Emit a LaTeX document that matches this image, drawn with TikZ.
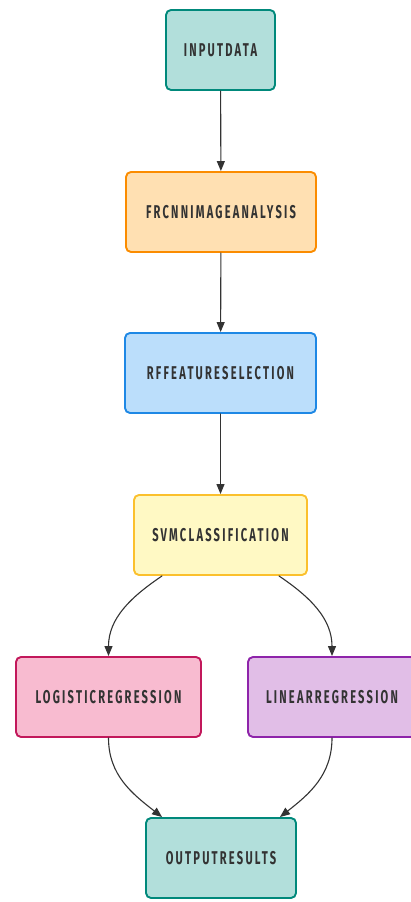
\documentclass[tikz,border=0pt]{standalone}
\usepackage{fontspec}
\usetikzlibrary{arrows.meta}
\newfontfamily\boxfont[FakeStretch=0.6,LetterSpace=12]{Fira Sans}
\definecolor{tealfill}{HTML}{B2DFDB}
\definecolor{tealline}{HTML}{00897B}
\definecolor{orangefill}{HTML}{FFE0B2}
\definecolor{orangeline}{HTML}{FB8C00}
\definecolor{bluefill}{HTML}{BBDEFB}
\definecolor{blueline}{HTML}{1E88E5}
\definecolor{yellowfill}{HTML}{FFF9C4}
\definecolor{yellowline}{HTML}{FBC02D}
\definecolor{pinkfill}{HTML}{F8BBD0}
\definecolor{pinkline}{HTML}{C2185B}
\definecolor{purplefill}{HTML}{E1BEE7}
\definecolor{purpleline}{HTML}{8E24AA}
\definecolor{inkgray}{HTML}{333333}

\begin{document}
\begin{tikzpicture}[line cap=round,line join=round,>={Triangle[length=10pt,width=8pt]},x=1pt,y=1pt,
	box/.style={draw,line width=1.9pt,rounded corners=5pt,minimum height=80pt,inner sep=0pt,text=inkgray,font=\boxfont\bfseries\fontsize{18.5}{20}\selectfont},
	flow/.style={->,draw=inkgray,line width=1.1pt}]
		\useasboundingbox (0,0) rectangle (410,902);
		\node[box,fill=tealfill,draw=tealline,minimum width=109pt] (inputdata) at (220.5,852) {INPUTDATA};
		\node[box,fill=orangefill,draw=orangeline,minimum width=190pt] (frcnn) at (221,690) {FRCNNIMAGEANALYSIS};
		\node[box,fill=bluefill,draw=blueline,minimum width=191pt] (rffeature) at (220.5,529) {RFFEATURESELECTION};
		\node[box,fill=yellowfill,draw=yellowline,minimum width=173pt] (svm) at (220.5,367) {SVMCLASSIFICATION};
		\node[box,fill=pinkfill,draw=pinkline,minimum width=185pt] (logistic) at (108.5,205) {LOGISTICREGRESSION};
		\node[box,fill=purplefill,draw=purpleline,minimum width=168pt] (linear) at (332,205) {LINEARREGRESSION};
		\node[box,fill=tealfill,draw=tealline,minimum width=150pt] (output) at (221,44) {OUTPUTRESULTS};
		\draw[flow] (inputdata) -- (frcnn);
		\draw[flow] (frcnn) -- (rffeature);
		\draw[flow] (rffeature) -- (svm);
		\draw[flow] ([xshift=29pt]svm.south west) to[out=-146,in=90] (logistic.north);
		\draw[flow] ([xshift=-29pt]svm.south east) to[out=-34,in=90] (linear.north);
		\draw[flow] (logistic.south) to[out=-90,in=142] ([xshift=17pt]output.north west);
		\draw[flow] (linear.south) to[out=-90,in=38] ([xshift=-17pt]output.north east);
\end{tikzpicture}
\end{document}
